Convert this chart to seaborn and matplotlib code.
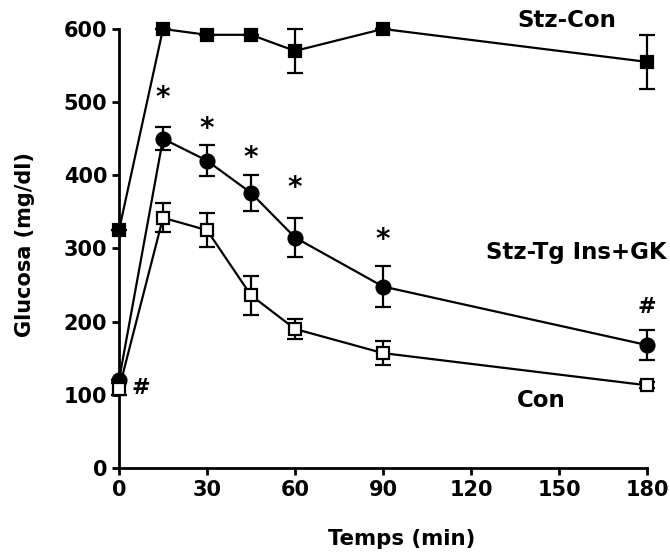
import matplotlib
matplotlib.use("Agg")
import matplotlib.pyplot as plt
import seaborn as sns
import pandas as pd

time_min = [0, 15, 30, 45, 60, 90, 180]
stz_con = [325, 600, 592, 592, 570, 600, 555]
stz_con_err = [0, 0, 0, 0, 30, 0, 37]
stz_tg = [120, 450, 420, 376, 315, 248, 168]
stz_tg_err = [0, 16, 21, 25, 27, 28, 20]
con = [108, 342, 325, 236, 190, 157, 113]
con_err = [8, 20, 23, 27, 14, 16, 4]

star_times = [15, 30, 45, 60, 90]
star_y = [505, 463, 423, 382, 312]
hash_pts = [(180, 220), (7.5, 110)]

x_ticks = [0, 30, 60, 90, 120, 150, 180]
y_ticks = [0, 100, 200, 300, 400, 500, 600]

sns.set_style("ticks")
plt.rcParams['font.family'] = ['DejaVu Sans']
plt.rcParams['font.weight'] = 'bold'
for k in ["text.color", "axes.labelcolor", "xtick.color", "ytick.color", "axes.edgecolor"]:
    plt.rcParams[k] = "black"

fig = plt.figure(figsize=(6.7, 5.57), dpi=100)
ax = fig.add_axes([0.1776, 0.1598, 0.7881, 0.7882])

series = [
    ("Stz-Con", stz_con, stz_con_err, "s", "black", 9),
    ("Stz-Tg Ins+GK", stz_tg, stz_tg_err, "o", "black", 10),
    ("Con", con, con_err, "s", "white", 9),
]

for name, vals, errs, mk, fc, ms in series:
    ax.errorbar(time_min, vals, yerr=errs, fmt="none", ecolor="black",
                elinewidth=1.6, capsize=6, capthick=1.6, zorder=2, clip_on=False)
    df = pd.DataFrame({"t": time_min, "v": vals})
    sns.lineplot(data=df, x="t", y="v", ax=ax, color="black", linewidth=1.6,
                 marker=mk, markersize=ms, markerfacecolor=fc,
                 markeredgecolor="black", markeredgewidth=1.6, zorder=3,
                 clip_on=False)

for t, y in zip(star_times, star_y):
    ax.text(t, y, "*", ha="center", va="center", fontsize=20, fontweight="bold")
for t, y in hash_pts:
    ax.text(t, y, "#", ha="center", va="center", fontsize=16, fontweight="bold")

ax.text(152.7, 603, "Stz-Con", ha="center", va="baseline", fontsize=16.5, fontweight="bold")
ax.text(186.8, 285.6, "Stz-Tg Ins+GK", ha="right", va="baseline", fontsize=16.5, fontweight="bold")
ax.text(143.9, 83.4, "Con", ha="center", va="baseline", fontsize=16.5, fontweight="bold")

ax.set_xlim(0, 180)
ax.set_ylim(0, 600)
ax.set_xticks(x_ticks)
ax.set_yticks(y_ticks)
ax.set_xlabel("Temps (min)", fontsize=15.3, fontweight="bold")
ax.set_ylabel("Glucosa (mg/dl)", fontsize=15, fontweight="bold")
ax.xaxis.set_label_coords(0.536, -0.139)
ax.yaxis.set_label_coords(-0.159, 0.51)
ax.tick_params(axis="both", labelsize=15, width=2, length=5, color="black")
for lab in ax.get_xticklabels() + ax.get_yticklabels():
    lab.set_fontweight("bold")
for s in ["left", "bottom"]:
    ax.spines[s].set_linewidth(2)
    ax.spines[s].set_color("black")
sns.despine(ax=ax)
if ax.get_legend():
    ax.get_legend().remove()

fig.savefig("out.png", dpi=100)
